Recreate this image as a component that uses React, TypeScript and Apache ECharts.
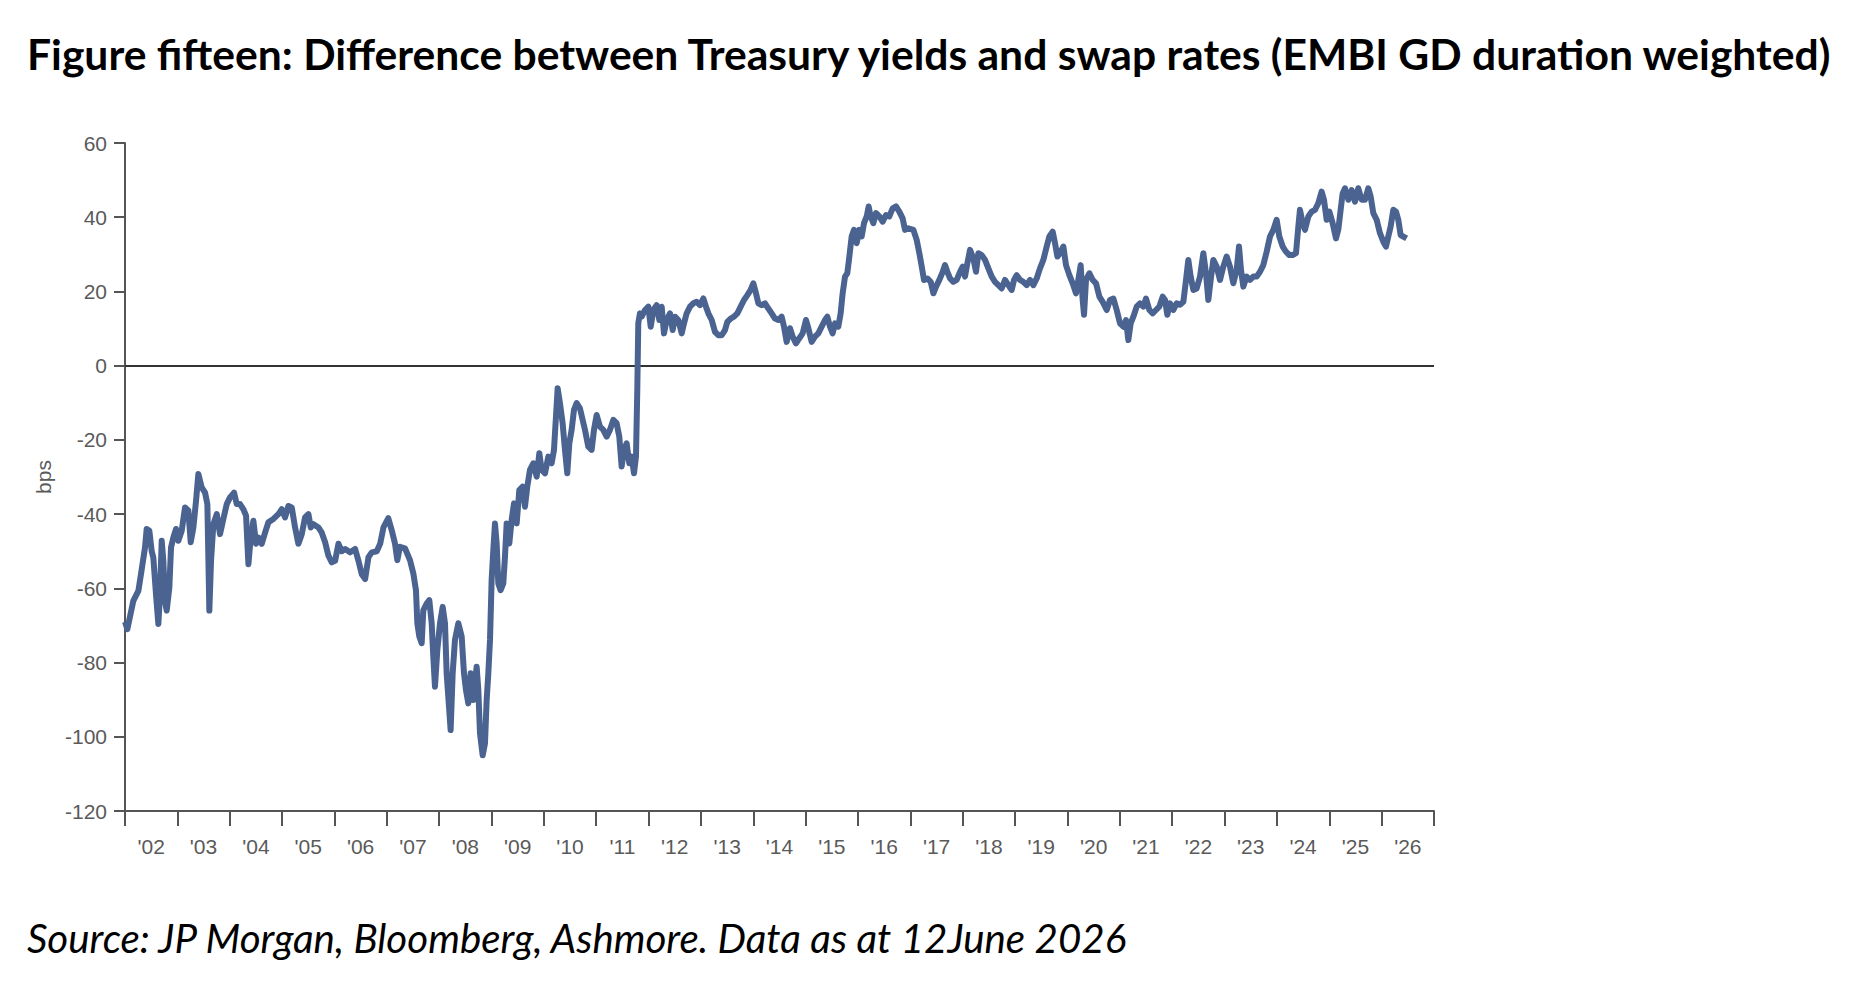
import React, { useEffect, useRef } from "react";
import * as echarts from "echarts";

const TITLE = "Figure fifteen: Difference between Treasury yields and swap rates (EMBI GD duration weighted)";
const SOURCE = "Source: JP Morgan, Bloomberg, Ashmore. Data as at 12June 2026";
const Y_NAME = "bps";

const yearLabels = ["'02", "'03", "'04", "'05", "'06", "'07", "'08", "'09", "'10", "'11", "'12", "'13", "'14", "'15", "'16", "'17", "'18", "'19", "'20", "'21", "'22", "'23", "'24", "'25", "'26"];

// [decimal year, bps]
const period2002to2006: [number, number][] = [
  [2002.0, -69], [2002.045, -71], [2002.159, -63.4], [2002.255, -60.7], [2002.318, -55], [2002.382, -49],
  [2002.414, -44], [2002.465, -44.5], [2002.51, -50], [2002.541, -51.7], [2002.592, -61.6], [2002.637, -69.6],
  [2002.669, -61.6], [2002.701, -47.2], [2002.732, -52.6], [2002.764, -63.4], [2002.796, -66], [2002.847, -59.8],
  [2002.879, -49], [2002.924, -46.3], [2002.975, -44], [2003.019, -47.2], [2003.083, -44.5], [2003.146, -38.2],
  [2003.21, -39], [2003.255, -47.6], [2003.306, -43.6], [2003.357, -36.4], [2003.401, -29.2], [2003.465, -32.8],
  [2003.529, -34.2], [2003.573, -37.3], [2003.611, -66], [2003.643, -52.6], [2003.688, -42.7], [2003.752, -40],
  [2003.815, -45.4], [2003.879, -41.3], [2003.943, -37.3], [2004.006, -35.5], [2004.083, -34.2], [2004.134, -37.3],
  [2004.197, -37.3], [2004.261, -38.7], [2004.312, -40.4], [2004.357, -53.5], [2004.401, -46.3], [2004.452, -41.8],
  [2004.503, -48], [2004.548, -46.3], [2004.611, -48], [2004.675, -45], [2004.739, -42.2], [2004.834, -41.3],
  [2004.93, -40], [2004.994, -38.7], [2005.057, -40.9], [2005.121, -37.8], [2005.185, -38.2], [2005.248, -43.6],
  [2005.312, -48], [2005.376, -45.4], [2005.439, -40.9], [2005.503, -40], [2005.548, -43.6], [2005.599, -42.7],
  [2005.694, -43.6], [2005.758, -45], [2005.822, -47.6], [2005.885, -51.2], [2005.949, -53], [2006.013, -52.6],
  [2006.076, -48], [2006.14, -50], [2006.204, -49.4], [2006.299, -50.3], [2006.395, -49.4], [2006.459, -52.6],
  [2006.522, -56.2], [2006.586, -57.5], [2006.65, -51.6], [2006.713, -50.3], [2006.809, -50], [2006.873, -48],
  [2006.936, -43.6],
];

const period2007to2011: [number, number][] = [
  [2007.029, -41.1], [2007.093, -44.3], [2007.156, -47.9], [2007.201, -52.4], [2007.252, -48.8], [2007.347, -49.2],
  [2007.443, -52.4], [2007.507, -56], [2007.557, -60.5], [2007.583, -69.4], [2007.621, -73], [2007.666, -74.8],
  [2007.697, -65.9], [2007.761, -64.1], [2007.812, -63.2], [2007.857, -69.4], [2007.888, -78.4], [2007.92, -86.5],
  [2007.965, -76.6], [2008.016, -69.4], [2008.067, -65], [2008.111, -69.4], [2008.143, -82.9], [2008.188, -91.9],
  [2008.219, -98.2], [2008.258, -82.9], [2008.302, -73.9], [2008.366, -69.4], [2008.43, -73], [2008.474, -82.9],
  [2008.512, -87.4], [2008.557, -91], [2008.601, -82.9], [2008.652, -90.1], [2008.716, -81.1], [2008.748, -87.4],
  [2008.78, -99.1], [2008.831, -105], [2008.875, -101.8], [2008.907, -90.1], [2008.939, -82.9], [2008.971, -73.9],
  [2009.002, -57.8], [2009.034, -49.7], [2009.066, -42.5], [2009.098, -47.9], [2009.13, -58.7], [2009.174, -60.5],
  [2009.225, -58.7], [2009.257, -51.5], [2009.289, -42.5], [2009.34, -47.9], [2009.384, -41.6], [2009.429, -37.1],
  [2009.48, -42.5], [2009.531, -33.5], [2009.594, -32.6], [2009.639, -38], [2009.683, -32.6], [2009.734, -28.1],
  [2009.798, -26.3], [2009.862, -29.9], [2009.913, -23.6], [2009.957, -28.1], [2010.021, -29], [2010.085, -24.5],
  [2010.148, -26.3], [2010.193, -22.7], [2010.231, -13.7], [2010.263, -6.1], [2010.307, -10.1], [2010.358, -15.5],
  [2010.403, -22.7], [2010.447, -29], [2010.486, -20.9], [2010.53, -17.3], [2010.575, -11.9], [2010.626, -10.1],
  [2010.689, -11.5], [2010.74, -14.6], [2010.785, -17.3], [2010.848, -21.8], [2010.912, -22.7], [2010.957, -17.3],
  [2011.008, -13.3], [2011.071, -16.4], [2011.135, -17.3], [2011.199, -19.1], [2011.262, -17.3], [2011.326, -14.6],
  [2011.389, -15.5], [2011.44, -19.1], [2011.485, -27.2], [2011.53, -22.7], [2011.58, -20.9], [2011.631, -26.3],
  [2011.676, -24.5], [2011.721, -29], [2011.759, -24.5], [2011.784, -6.5], [2011.803, 11.4], [2011.835, 14.1],
];

const period2012to2016: [number, number][] = [
  [2011.868, 13.2], [2011.931, 15], [2011.995, 15.9], [2012.04, 10.5], [2012.091, 15], [2012.154, 16.3],
  [2012.205, 12.3], [2012.25, 15.9], [2012.294, 8.7], [2012.345, 12.3], [2012.409, 14.1], [2012.46, 9.6],
  [2012.504, 13.2], [2012.568, 12.3], [2012.632, 8.7], [2012.676, 11.4], [2012.727, 14.1], [2012.791, 15.9],
  [2012.854, 16.8], [2012.918, 17.2], [2012.982, 16.3], [2013.045, 18.1], [2013.096, 15.9], [2013.141, 14.1],
  [2013.205, 12.3], [2013.268, 9.1], [2013.332, 8.2], [2013.396, 8.2], [2013.459, 9.6], [2013.504, 11.8],
  [2013.567, 12.7], [2013.631, 13.2], [2013.695, 14.1], [2013.758, 15.9], [2013.822, 17.7], [2013.886, 19],
  [2013.949, 20.4], [2014.0, 22.2], [2014.051, 19.5], [2014.096, 16.8], [2014.159, 16.3], [2014.223, 16.8],
  [2014.287, 15.4], [2014.35, 14.1], [2014.414, 12.7], [2014.478, 12.3], [2014.541, 13.2], [2014.586, 10.5],
  [2014.637, 6.4], [2014.7, 10.1], [2014.751, 7.8], [2014.815, 6], [2014.879, 7.4], [2014.942, 8.7],
  [2015.006, 12.3], [2015.051, 10.1], [2015.114, 6.4], [2015.178, 7.8], [2015.242, 8.7], [2015.305, 10.5],
  [2015.369, 12.3], [2015.414, 13.2], [2015.464, 10.5], [2015.515, 8.7], [2015.56, 11.4], [2015.623, 10.5],
  [2015.668, 14.1], [2015.706, 19.5], [2015.751, 24], [2015.795, 24.9], [2015.834, 29.4], [2015.878, 34.8],
  [2015.923, 36.6], [2015.974, 33], [2016.024, 36.6], [2016.069, 34.8], [2016.114, 38.4], [2016.165, 40.2],
  [2016.203, 42.9], [2016.241, 40.2], [2016.292, 38.4], [2016.343, 41.1], [2016.407, 40.2], [2016.47, 38.8],
  [2016.534, 40.6], [2016.597, 40.2], [2016.661, 42.4], [2016.725, 42.9], [2016.788, 41.5], [2016.852, 39.7],
  [2016.897, 36.6], [2016.96, 37],
];

const period2017to2021: [number, number][] = [
  [2017.057, 36.6], [2017.12, 33.9], [2017.171, 30.3], [2017.216, 26.7], [2017.26, 23.1], [2017.324, 23.5],
  [2017.388, 22.6], [2017.439, 19.5], [2017.49, 21.3], [2017.553, 23.1], [2017.617, 25.3], [2017.661, 27.1],
  [2017.706, 25.3], [2017.757, 23.5], [2017.82, 22.6], [2017.884, 23.1], [2017.948, 25.3], [2017.999, 26.7],
  [2018.043, 24], [2018.088, 27.6], [2018.139, 31.2], [2018.202, 28.9], [2018.253, 25.3], [2018.298, 30.3],
  [2018.362, 29.8], [2018.425, 28.5], [2018.489, 26.2], [2018.553, 24], [2018.616, 22.6], [2018.68, 21.7],
  [2018.743, 20.8], [2018.807, 23.1], [2018.871, 21.7], [2018.934, 20.4], [2018.979, 23.1], [2019.03, 24.4],
  [2019.094, 23.1], [2019.157, 22.6], [2019.221, 21.7], [2019.285, 23.1], [2019.348, 21.7], [2019.412, 23.5],
  [2019.475, 26.2], [2019.539, 28.5], [2019.603, 32.1], [2019.654, 34.8], [2019.717, 36.1], [2019.762, 33],
  [2019.807, 29.4], [2019.857, 30.3], [2019.921, 32.1], [2019.972, 27.1], [2020.036, 24.4], [2020.099, 22.2],
  [2020.163, 19.5], [2020.207, 23.1], [2020.252, 27.1], [2020.29, 17.7], [2020.316, 13.7], [2020.354, 23.1],
  [2020.418, 24.9], [2020.481, 23.1], [2020.545, 22.2], [2020.609, 18.6], [2020.672, 17.2], [2020.749, 15],
  [2020.812, 17.7], [2020.876, 18.1], [2020.94, 15], [2021.003, 11.4], [2021.067, 10.5], [2021.118, 12.3],
  [2021.162, 6.9], [2021.207, 11.4], [2021.258, 13.2], [2021.322, 15.9], [2021.385, 16.8], [2021.449, 15.9],
  [2021.5, 18.1], [2021.564, 15], [2021.627, 14.1], [2021.691, 15], [2021.754, 15.9], [2021.818, 18.6],
  [2021.863, 17.7], [2021.907, 13.7], [2021.958, 16.8],
];

const period2022to2026: [number, number][] = [
  [2022.022, 15], [2022.085, 16.8], [2022.149, 16.4], [2022.213, 17.2], [2022.264, 23.1], [2022.308, 28.5],
  [2022.353, 24], [2022.404, 20.4], [2022.467, 20.8], [2022.531, 24], [2022.595, 30.3], [2022.645, 24.9],
  [2022.69, 17.7], [2022.735, 23.1], [2022.785, 28.5], [2022.849, 26.7], [2022.913, 23.1], [2022.976, 26.7],
  [2023.04, 29.4], [2023.104, 26.7], [2023.167, 22.2], [2023.231, 25.8], [2023.276, 32.1], [2023.314, 25.8],
  [2023.358, 21.3], [2023.422, 24], [2023.486, 23.1], [2023.549, 24], [2023.613, 24], [2023.677, 25.3],
  [2023.74, 27.1], [2023.804, 30.7], [2023.868, 34.8], [2023.931, 36.6], [2023.995, 39.3], [2024.046, 34.8],
  [2024.11, 32.1], [2024.173, 30.7], [2024.237, 29.8], [2024.3, 29.8], [2024.364, 30.3], [2024.409, 37.5],
  [2024.44, 42], [2024.491, 38.4], [2024.536, 36.6], [2024.6, 40.2], [2024.663, 41.5], [2024.727, 42],
  [2024.791, 43.8], [2024.854, 46.9], [2024.899, 44.7], [2024.95, 39.3], [2025.001, 41.5], [2025.064, 38.4],
  [2025.128, 34.3], [2025.172, 36.6], [2025.217, 42], [2025.255, 46.4], [2025.3, 47.8], [2025.364, 44.7],
  [2025.427, 47.3], [2025.491, 44.2], [2025.554, 47.8], [2025.618, 44.7], [2025.682, 44.7], [2025.745, 47.8],
  [2025.79, 45.6], [2025.841, 41.1], [2025.905, 39.3], [2025.968, 35.7], [2026.032, 33.4], [2026.083, 32.1],
  [2026.127, 34.8], [2026.172, 37.5], [2026.223, 42], [2026.274, 41.5], [2026.318, 39.3], [2026.363, 35.2],
  [2026.414, 34.8], [2026.477, 34.3],
];

const spreadSeries = [
  ...period2002to2006,
  ...period2007to2011,
  ...period2012to2016,
  ...period2017to2021,
  ...period2022to2026,
];

const AXIS_COLOR = "#555555";
const LABEL_COLOR = "#5a5a5a";
const LINE_COLOR = "#4b6390";

export default function App() {
  const ref = useRef<HTMLDivElement>(null);

  useEffect(() => {
    if (!ref.current) return;
    const chart = echarts.init(ref.current, undefined, { renderer: "svg" });
    chart.setOption({
      animation: false,
      backgroundColor: "#ffffff",
      grid: { left: 125, top: 143, width: 1309, height: 668, containLabel: false },
      graphic: [
        {
          type: "text",
          x: 27,
          y: 53,
          style: {
            text: TITLE,
            fill: "#000000",
            font: 'bold 42.6px Lato, "Noto Sans", sans-serif',
            verticalAlign: "middle",
          },
        },
        {
          type: "text",
          x: 27,
          y: 937,
          style: {
            text: SOURCE,
            fill: "#000000",
            font: 'italic 40.3px Lato, "Noto Sans", sans-serif',
            verticalAlign: "middle",
          },
        },
      ],
      xAxis: [
        {
          type: "value",
          min: 2002,
          max: 2027,
          interval: 1,
          position: "bottom",
          axisLine: { show: true, onZero: false, lineStyle: { color: AXIS_COLOR, width: 2 } },
          axisTick: { show: true, length: 15, lineStyle: { color: AXIS_COLOR, width: 2 } },
          axisLabel: { show: false },
          splitLine: { show: false },
        },
        {
          type: "category",
          data: yearLabels,
          boundaryGap: true,
          position: "bottom",
          axisLine: { show: false },
          axisTick: { show: false },
          splitLine: { show: false },
          axisLabel: {
            show: true,
            interval: 0,
            margin: 25,
            color: LABEL_COLOR,
            fontSize: 21,
            fontFamily: '"Liberation Sans", Arial, sans-serif',
          },
        },
      ],
      yAxis: [
        {
          type: "value",
          min: -120,
          max: 60,
          interval: 20,
          name: Y_NAME,
          nameLocation: "middle",
          nameRotate: 90,
          nameGap: 60,
          nameTextStyle: {
            color: LABEL_COLOR,
            fontSize: 21,
            fontFamily: '"Liberation Sans", Arial, sans-serif',
          },
          axisLine: { show: true, lineStyle: { color: AXIS_COLOR, width: 2 } },
          axisTick: { show: true, length: 11, lineStyle: { color: AXIS_COLOR, width: 2 } },
          axisLabel: {
            margin: 18,
            color: LABEL_COLOR,
            fontSize: 21,
            fontFamily: '"Liberation Sans", Arial, sans-serif',
          },
          splitLine: { show: false },
        },
      ],
      series: [
        {
          type: "line",
          xAxisIndex: 0,
          yAxisIndex: 0,
          data: spreadSeries,
          showSymbol: false,
          symbol: "none",
          smooth: false,
          lineStyle: { color: LINE_COLOR, width: 6, join: "round" },
          itemStyle: { color: LINE_COLOR },
          z: 3,
          markLine: {
            silent: true,
            symbol: ["none", "none"],
            label: { show: false },
            lineStyle: { color: "#333333", width: 2, type: "solid" },
            data: [{ yAxis: 0 }],
            z: 2,
          },
        },
      ],
    });
    return () => chart.dispose();
  }, []);

  return (
    <div
      ref={ref}
      style={{ position: "fixed", left: 0, top: 0, width: 1867, height: 985, background: "#fff" }}
    />
  );
}
